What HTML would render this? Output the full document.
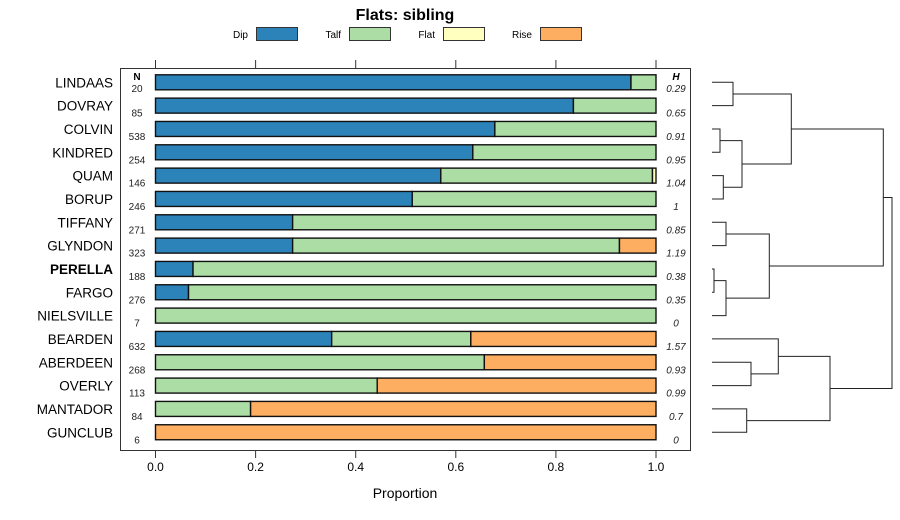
<!DOCTYPE html>
<html><head><meta charset="utf-8"><style>
body{margin:0;background:#fff;}
svg{display:block;font-family:"Liberation Sans",sans-serif;}
</style></head><body>
<svg id="chart" width="900" height="520" xmlns="http://www.w3.org/2000/svg">
<text x="405" y="20" text-anchor="middle" font-size="16" font-weight="bold">Flats: sibling</text>
<g id="legend"></g>
<rect x="120.5" y="68.5" width="570" height="382" fill="none" stroke="#333" stroke-width="1"/>
<g id="axes"></g>
<g id="bars"></g>
<g id="dendro" fill="none" stroke="#222" stroke-width="1"></g>
<text x="405" y="498" text-anchor="middle" font-size="14">Proportion</text>
<text x="137" y="80" text-anchor="middle" font-size="10" font-weight="bold">N</text>
<text x="676" y="80" text-anchor="middle" font-size="10" font-weight="bold" font-style="italic">H</text>
</svg>
<script>
const categories=["LINDAAS","DOVRAY","COLVIN","KINDRED","QUAM","BORUP","TIFFANY","GLYNDON","PERELLA","FARGO","NIELSVILLE","BEARDEN","ABERDEEN","OVERLY","MANTADOR","GUNCLUB"];
const dip=[0.95,0.835,0.678,0.634,0.57,0.513,0.274,0.274,0.075,0.066,0,0.352,0,0,0,0];
const talf=[0.05,0.165,0.322,0.366,0.423,0.487,0.726,0.653,0.925,0.934,1,0.278,0.657,0.443,0.19,0];
const flat=[0,0,0,0,0.007,0,0,0,0,0,0,0,0,0,0,0];
const rise=[0,0,0,0,0,0,0,0.073,0,0,0,0.37,0.343,0.557,0.81,1];
const nVals=["20","85","538","254","146","246","271","323","188","276","7","632","268","113","84","6"];
const hVals=["0.29","0.65","0.91","0.95","1.04","1","0.85","1.19","0.38","0.35","0","1.57","0.93","0.99","0.7","0"];
const seriesNames=["Dip","Talf","Flat","Rise"];
const ticks=[0,0.2,0.4,0.6,0.8,1.0];
const tickLabels=["0.0","0.2","0.4","0.6","0.8","1.0"];
const colors=["#2b83ba","#abdda4","#ffffbf","#fdae61"];
const NS="http://www.w3.org/2000/svg";
const xs=v=>155.5+v*500.5;
const ys=i=>82.3+i*23.33;
function mk(tag,attrs,parent){const e=document.createElementNS(NS,tag);for(const k in attrs)e.setAttribute(k,attrs[k]);parent.appendChild(e);return e;}
const lg=document.getElementById('legend');
const lx=[256,349,443,540];
seriesNames.forEach((s,k)=>{
 const t=mk('text',{x:lx[k]-8,y:38,'text-anchor':'end','font-size':10},lg);t.textContent=s;
 
 
 const r=mk('rect',{x:lx[k]+0.5,y:27.5,width:41,height:13,fill:colors[k],stroke:'#333'},lg);
 
 
});
const ax=document.getElementById('axes');
ticks.forEach((v,k)=>{
 const t1=mk('line',{x1:xs(v),x2:xs(v),y1:60,y2:68,stroke:'#333'},ax);
 
 
 const t2=mk('line',{x1:xs(v),x2:xs(v),y1:451,y2:458,stroke:'#333'},ax);
 
 
 const tl=mk('text',{x:xs(v),y:471,'text-anchor':'middle','font-size':12},ax);tl.textContent=tickLabels[k];
 
 
});
const bg=document.getElementById('bars');
const series=[dip,talf,flat,rise];
categories.forEach((c,i)=>{
 const cy=ys(i);
 const lab=mk('text',{x:113,y:cy+5,'text-anchor':'end','font-size':13.5,'font-weight':c==="PERELLA"?'bold':'normal'},bg);lab.textContent=c;
 
 
 let acc=0;
 series.forEach((arr,k)=>{
  const v=arr[i]; if(v<=0)return;
  const r=mk('rect',{x:xs(acc),y:cy-7.5,width:xs(acc+v)-xs(acc),height:15,fill:colors[k],stroke:'#111','stroke-width':1.4},bg);
  
  
  acc+=v;
 });
 const n=mk('text',{x:137,y:cy+(i===0?9.5:11),'text-anchor':'middle','font-size':10,fill:'#222'},bg);n.textContent=nVals[i];
 
 
 const h=mk('text',{x:676,y:cy+(i===0?9.5:11),'text-anchor':'middle','font-size':10,'font-style':'italic',fill:'#222'},bg);h.textContent=hVals[i];
 
 
});
const dg=document.getElementById('dendro');
const L=712;
function link(ya,xa,yb,xb,xm){
 const p=mk('path',{d:`M${xa},${ya}H${xm}V${yb}H${xb}`},dg);
 
 
 return (ya+yb)/2;
}
const cA=link(ys(0),L,ys(1),L,733);
const cB=link(ys(2),L,ys(3),L,720);
const cC=link(ys(4),L,ys(5),L,723.3);
const cBC=link(cB,720,cC,723.3,742);
const cABC=link(cA,733,cBC,742,791.3);
const cD=link(ys(6),L,ys(7),L,726);
const cE=link(ys(8),L,ys(9),L,714);
const cEF=link(cE,714,ys(10),L,726);
const cDEF=link(cD,726,cEF,726,769.3);
const topCluster=link(cABC,791.3,cDEF,769.3,883.3);
const cG=link(ys(12),L,ys(13),L,751);
const cGG=link(ys(11),L,cG,751,778.3);
const cH=link(ys(14),L,ys(15),L,746.7);
const botCluster=link(cGG,778.3,cH,746.7,830);
link(topCluster,883.3,botCluster,830,892);
</script>
</body></html>
